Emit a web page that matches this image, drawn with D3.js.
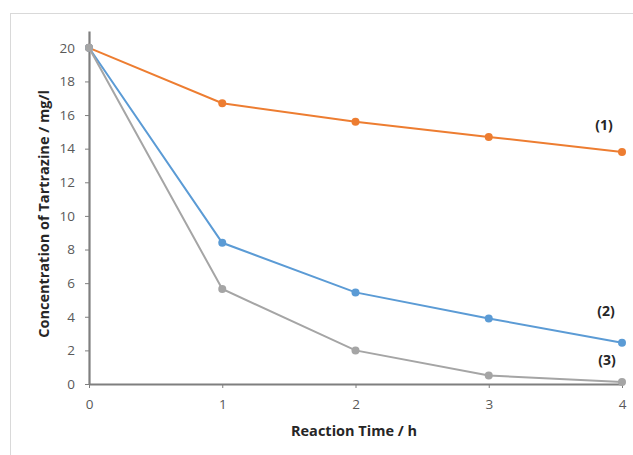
<!DOCTYPE html>
<html><head><meta charset="utf-8">
<script src="https://cdn.jsdelivr.net/npm/d3@7"></script>
<style>body{margin:0;background:#fff}svg{display:block}</style>
</head><body>
<script>
const times = [0, 1, 2, 3, 4];
const series1 = [20, 16.7, 15.6, 14.7, 13.8];
const series2 = [20, 8.4, 5.45, 3.9, 2.45];
const series3 = [20, 5.65, 2.0, 0.5, 0.12];
const seriesLabels = ["(1)", "(2)", "(3)"];
const seriesColors = ["#ED7D31", "#5B9BD5", "#A5A5A5"];
const yTicks = [0, 2, 4, 6, 8, 10, 12, 14, 16, 18, 20];
const xTicks = [0, 1, 2, 3, 4];

const W = 633, H = 455;
const svg = d3.select("body").append("svg").attr("width", W).attr("height", H);
svg.append("rect").attr("x", 10.5).attr("y", 13.5).attr("width", W).attr("height", H)
  .attr("fill", "#fff").attr("stroke", "#d9d9d9").attr("stroke-width", 1);

const x = d3.scaleLinear().domain([0, 4]).range([89, 622]);
const y = d3.scaleLinear().domain([0, 21]).range([384, 31]);
const font = "'Open Sans', Lato, sans-serif";

// axes
const xAxis = svg.append("g").attr("transform", `translate(0,${y(0)})`)
  .call(d3.axisBottom(x).tickValues(xTicks).tickSize(4).tickPadding(11).tickSizeOuter(0).tickFormat(d3.format("d")));
const yAxis = svg.append("g").attr("transform", `translate(${x(0)},0)`)
  .call(d3.axisLeft(y).tickValues(yTicks).tickSize(4).tickPadding(10).tickSizeOuter(0).tickFormat(d3.format("d")));
[xAxis, yAxis].forEach(g => {
  g.select(".domain").attr("stroke", "#7f7f7f").attr("stroke-width", 2.2);
  g.selectAll(".tick line").attr("stroke", "#7f7f7f").attr("stroke-width", 1);
  g.selectAll("text").attr("fill", "#595959").style("font-family", font).style("font-size", "13.5px");
});

const all = [series1, series2, series3];
const line = d3.line().x((d, i) => x(times[i])).y(d => y(d));
[0, 1, 2].forEach(k => {
  const g = svg.append("g");
  g.append("path").datum(all[k]).attr("d", line).attr("fill", "none")
    .attr("stroke", seriesColors[k]).attr("stroke-width", 2);
  g.selectAll("circle").data(all[k]).join("circle")
    .attr("cx", (d, i) => x(times[i])).attr("cy", d => y(d)).attr("r", 4)
    .attr("fill", seriesColors[k]);
});

// series labels
const labelPos = [[604, 130], [606, 316], [607, 365]];
seriesLabels.forEach((t, k) => {
  svg.append("text").attr("x", labelPos[k][0]).attr("y", labelPos[k][1])
    .attr("text-anchor", "middle").attr("fill", "#262626")
    .style("font-family", font).style("font-size", "14px").style("font-weight", "bold").text(t);
});

// axis titles
svg.append("text").attr("x", 354).attr("y", 436).attr("text-anchor", "middle")
  .attr("fill", "#262626").style("font-family", font).style("font-size", "14.5px").style("font-weight", "bold")
  .text("Reaction Time / h");
svg.append("text").attr("transform", "translate(49,214) rotate(-90)").attr("text-anchor", "middle")
  .attr("fill", "#262626").style("font-family", font).style("font-size", "14.5px").style("font-weight", "bold")
  .text("Concentration of Tartrazine / mg/l");
</script>
</body></html>
